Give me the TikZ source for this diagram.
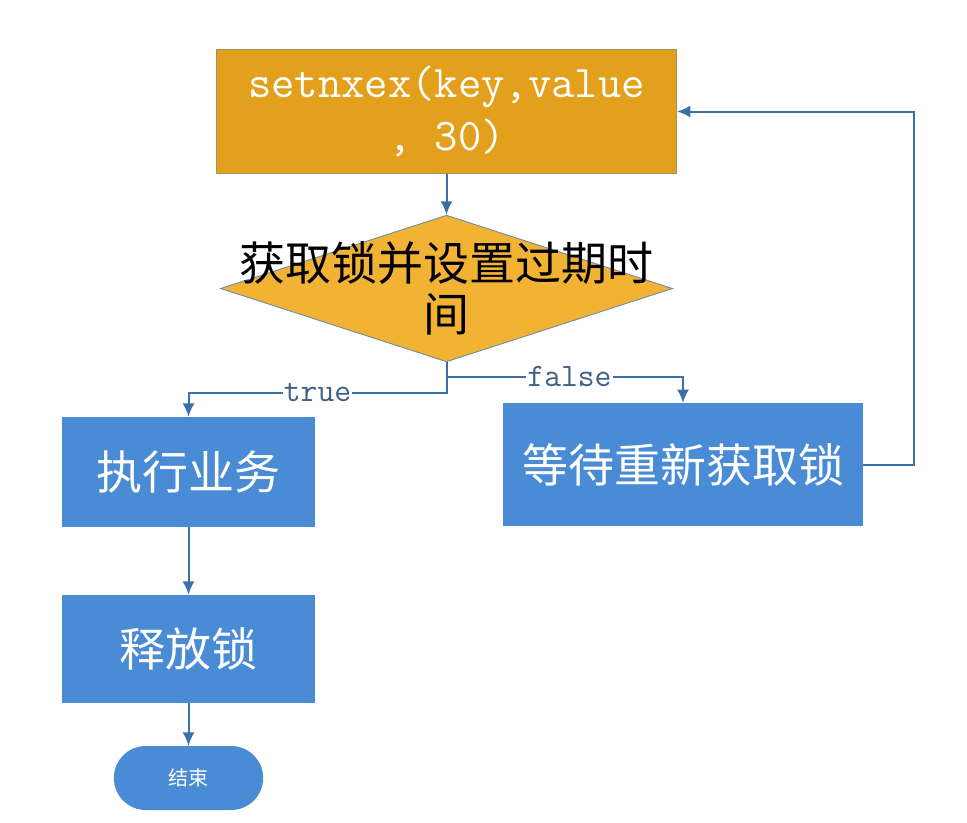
\documentclass[tikz,border=0pt]{standalone}
\usepackage{fontspec}
\usepackage{xcolor}
\usetikzlibrary{positioning,arrows.meta,shapes.geometric}
\newfontfamily\cjk{Noto Sans CJK SC}
\definecolor{Gold}{HTML}{E2A01C}
\definecolor{GoldEdge}{HTML}{9C9460}
\definecolor{Amber}{HTML}{F2B233}
\definecolor{AmberEdge}{HTML}{6F8FA3}
\definecolor{Sky}{HTML}{4A8BD5}
\definecolor{Wire}{HTML}{3B6FA8}
\definecolor{LabelInk}{HTML}{3F5E88}

\begin{document}
\begin{tikzpicture}[
      x=0.75pt, y=-0.75pt,
      cmdbox/.style={draw=GoldEdge, line width=0.8pt, fill=Gold, minimum width=345pt, minimum height=93pt, align=center, text=white, font=\fontsize{34}{40}\selectfont\ttfamily},
      decision/.style={diamond, draw=AmberEdge, line width=0.7pt, fill=Amber, inner sep=0pt, minimum width=339pt, minimum height=110pt},
      dectext/.style={align=center, text=black, font=\fontsize{34.5}{38}\selectfont\cjk},
      task/.style={fill=Sky, minimum width=190pt, align=center, text=white, font=\fontsize{34.5}{40}\selectfont\cjk},
      terminal/.style={fill=Sky, rounded corners=24pt, minimum width=112pt, minimum height=48pt, text=white, font=\fontsize{15}{18}\selectfont\cjk},
      conn/.style={-{Latex[length=10pt,width=9pt]}, line width=1.5pt, draw=Wire},
      lbl/.style={fill=white, inner sep=1pt, text=LabelInk, font=\fontsize{24.5}{26}\selectfont\ttfamily}
    ]
    \useasboundingbox (0,0) rectangle (967,822);

    \node[cmdbox] (setx) at (446.5,111.5) {setnxex(key,value\\, 30)};
    \node[decision] (dec) at (446.5,288.5) {};
    \node[dectext] (dect) at (dec.center) {获取锁并设置过期时\\间};
    \node[task, minimum height=82.5pt] (exec) at (188.5,472) {执行业务};
    \node[task, minimum width=270pt, minimum height=92pt] (wait) at (683,464.5) {等待重新获取锁};
    \node[task, minimum height=81pt] (rel) at (188.5,649) {释放锁};
    \node[terminal] (fin) at (188.5,778) {结束};

    \coordinate (fsplit) at (446.5,377);
    \coordinate (tsplit) at (446.5,393);

    \draw[conn] (setx.south) -- (dec.north);
    \draw[conn] (dec.south) -- (tsplit) -| node[lbl, pos=0.25] {true} (exec.north);
    \draw[conn] (fsplit) -| node[lbl, pos=0.26] {false} (wait.north);
    \draw[conn] (wait.east) -- ++(51,0) |- (setx.east);
    \draw[conn] (exec) -- (rel);
    \draw[conn] (rel) -- (fin);
  \end{tikzpicture}
\end{document}
